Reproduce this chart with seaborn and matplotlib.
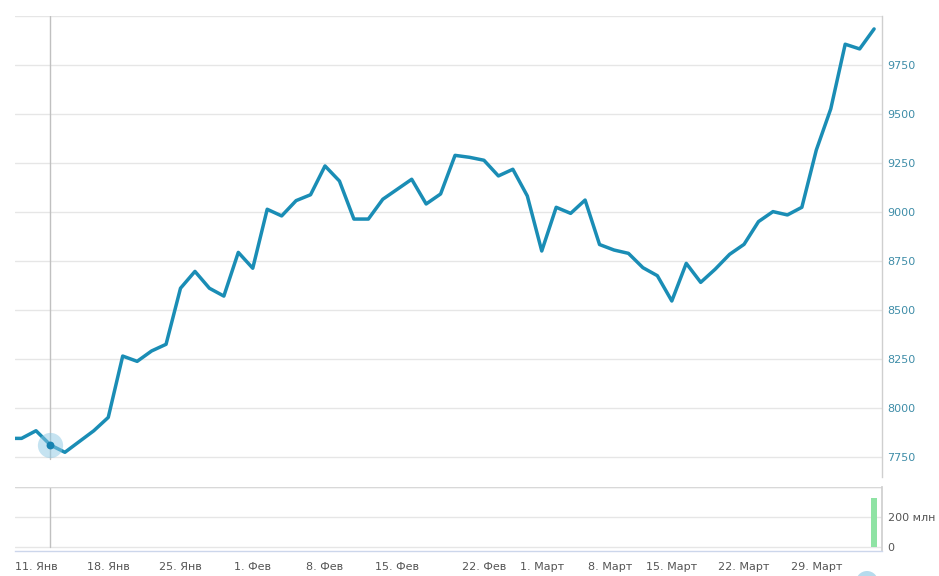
import matplotlib
matplotlib.use("Agg")
import matplotlib.pyplot as plt
from matplotlib.patches import Ellipse
import seaborn as sns
import pandas as pd
import numpy as np

# ---- data (ordinal trading-day index, like an ordinal stock axis) ----
dates = ["2021-01-06", "2021-01-08",
         "2021-01-11", "2021-01-12", "2021-01-13", "2021-01-14", "2021-01-15",
         "2021-01-18", "2021-01-19", "2021-01-20", "2021-01-21", "2021-01-22",
         "2021-01-25", "2021-01-26", "2021-01-27", "2021-01-28", "2021-01-29",
         "2021-02-01", "2021-02-02", "2021-02-03", "2021-02-04", "2021-02-05",
         "2021-02-08", "2021-02-09", "2021-02-10", "2021-02-11", "2021-02-12",
         "2021-02-15", "2021-02-16", "2021-02-17", "2021-02-18", "2021-02-19",
         "2021-02-20", "2021-02-22", "2021-02-24", "2021-02-25", "2021-02-26",
         "2021-03-01", "2021-03-02", "2021-03-03", "2021-03-04", "2021-03-05",
         "2021-03-09", "2021-03-10", "2021-03-11", "2021-03-12",
         "2021-03-15", "2021-03-16", "2021-03-17", "2021-03-18", "2021-03-19",
         "2021-03-22", "2021-03-23", "2021-03-24", "2021-03-25", "2021-03-26",
         "2021-03-29", "2021-03-30", "2021-03-31", "2021-04-01", "2021-04-02"]
prices = [7845, 7845,
          7884, 7811, 7774, 7829, 7884,
          7952, 8265, 8238, 8291, 8325,
          8611, 8697, 8611, 8571, 8794,
          8713, 9014, 8980, 9058, 9088,
          9235, 9158, 8964, 8964, 9065,
          9116, 9167, 9041, 9092, 9289,
          9279, 9264, 9184, 9218, 9082,
          8801, 9024, 8993, 9061, 8834,
          8806, 8789, 8716, 8675,
          8546, 8738, 8641, 8708, 8784,
          8835, 8951, 9002, 8985, 9024,
          9316, 9526, 9856, 9832, 9934]
volumes = [0] * (len(dates) - 1) + [327e6]

tick_labels = ["11. Янв", "18. Янв", "25. Янв", "1. Фев", "8. Фев", "15. Фев",
               "22. Фев", "1. Март", "8. Март", "15. Март", "22. Март", "29. Март"]
tick_dates = ["2021-01-11", "2021-01-18", "2021-01-25", "2021-02-01", "2021-02-08",
              "2021-02-15", "2021-02-22", "2021-03-01", "2021-03-08", "2021-03-15",
              "2021-03-22", "2021-03-29"]
price_ticks = [7750, 8000, 8250, 8500, 8750, 9000, 9250, 9500, 9750, 10000]
hover_date = "2021-01-12"

# ---- build ordinal positions ----
dt = pd.to_datetime(dates)
origin = list(dt).index(pd.Timestamp("2021-01-11"))
df = pd.DataFrame({"date": dt, "price": prices, "volume": volumes})
df["pos"] = np.arange(len(df)) - origin
ts = dt.values.astype("datetime64[D]").astype(float)


def ordinal(d):
    t = float(np.datetime64(pd.Timestamp(d).date(), "D").astype(float))
    return float(np.interp(t, ts, df["pos"].values))


tick_pos = [ordinal(d) for d in tick_dates]
hover_pos = ordinal(hover_date)
hover_val = float(df.loc[df["pos"] == round(hover_pos), "price"].iloc[0])

# ---- style ----
sns.set_theme(style="white")
plt.rcParams["font.family"] = ["DejaVu Sans"]

W, H = 939, 576
fig = plt.figure(figsize=(W / 100, H / 100), dpi=100)

px_left, px_right = 15, 882
step = 14.45
x0 = (px_left - 36) / step
x1 = (px_right - 36) / step


def fy(p):
    return 1 - p / H


ax = fig.add_axes([px_left / W, fy(477), (px_right - px_left) / W, fy(16) - fy(477)])
axv = fig.add_axes([px_left / W, fy(551), (px_right - px_left) / W, fy(487) - fy(551)])

line_color = "#1a8db5"
grid_color = "#e6e6e6"
axis_color = "#ccd6eb"
label_teal = "#3f8da8"
fs = 8

# main price line
sns.lineplot(data=df, x="pos", y="price", ax=ax, color=line_color, linewidth=2.5,
             legend=False)
ymin = 7750 - 20 / 49 * 250
ax.set_xlim(x0, x1)
ax.set_ylim(ymin, 10000)
ax.set_yticks(price_ticks)
ax.set_yticklabels([f"{v}" if v < 10000 else "" for v in price_ticks])
ax.yaxis.tick_right()
ax.grid(axis="y", color=grid_color, linewidth=1)
ax.grid(axis="x", visible=False)
ax.set_xticks([])
ax.set_xlabel("")
ax.set_ylabel("")
for s in ["left", "top", "bottom"]:
    ax.spines[s].set_visible(False)
ax.spines["right"].set_color("#cfcfcf")
ax.spines["right"].set_linewidth(1)
ax.tick_params(axis="y", length=0, pad=4, labelsize=fs, labelcolor=label_teal)

# crosshair + hover marker
ax.plot([hover_pos, hover_pos], [7750 - 2 / 49 * 250, 10000], color="#c0c0c0",
        linewidth=1, zorder=1)
ax.scatter([hover_pos], [hover_val], s=330, color="#8cc8e4", alpha=0.5, zorder=4,
           linewidths=0)
ax.scatter([hover_pos], [hover_val], s=32, color="#1682b0", zorder=5, linewidths=0)

# volume panel
sns.barplot(x=df["pos"].values, y=df["volume"].values, ax=axv, native_scale=True,
            color="#8fe3a4", width=0.42, saturation=1, edgecolor="none")
vmin = -4 / 30 * 200e6
axv.set_xlim(x0, x1)
axv.set_ylim(vmin, 400e6)
axv.set_yticks([0, 200e6, 400e6])
axv.set_yticklabels(["0", "200 млн", ""])
axv.yaxis.tick_right()
axv.grid(axis="y", color=grid_color, linewidth=1)
axv.grid(axis="x", visible=False)
axv.plot([hover_pos, hover_pos], [0, 400e6], color="#c0c0c0", linewidth=1, zorder=1)
for s in ["left", "top"]:
    axv.spines[s].set_visible(False)
axv.spines["right"].set_color("#cfcfcf")
axv.spines["bottom"].set_color(axis_color)
axv.spines["bottom"].set_linewidth(1)
axv.set_xticks(tick_pos)
axv.set_xticklabels(tick_labels)
axv.tick_params(axis="x", length=6, width=1, color=axis_color, pad=2,
                labelsize=fs, labelcolor="#555555")
axv.tick_params(axis="y", length=0, pad=4, labelsize=fs, labelcolor="#555555")
axv.set_xlabel("")
axv.set_ylabel("")
axv.axhline(400e6, color="#d8d8d8", linewidth=1)

# partially visible handle circle at the bottom edge
fig.patches.append(Ellipse((867 / W, fy(582)), 22 / W, 22 / H, transform=fig.transFigure,
                           facecolor="#a9d5ea", edgecolor="none", alpha=0.85))

fig.savefig("out.png", dpi=100, facecolor="white")
